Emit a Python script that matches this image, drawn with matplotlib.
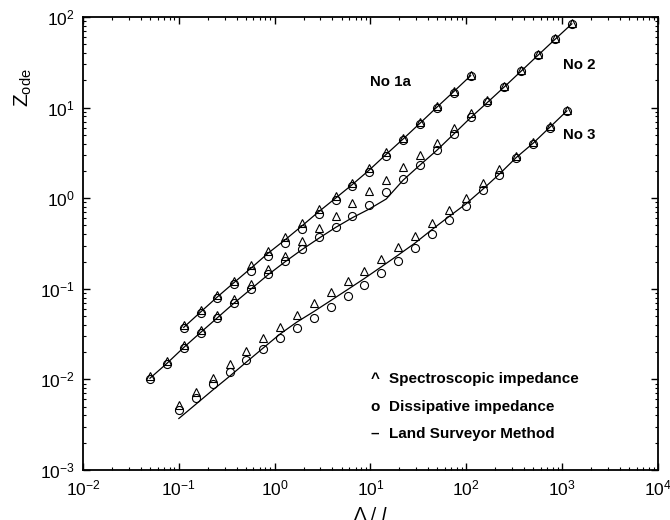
import matplotlib
matplotlib.use("Agg")
import matplotlib.pyplot as plt
from matplotlib.ticker import LogLocator, NullFormatter

plt.rcParams['font.family'] = ['Liberation Sans', 'DejaVu Sans']
plt.rcParams['mathtext.fontset'] = 'custom'
plt.rcParams['mathtext.rm'] = 'Liberation Sans'
plt.rcParams['mathtext.it'] = 'Liberation Sans:italic'

# series No 2 (x grid, ratio 1.5)
x_no2 = [0.05, 0.075, 0.1125, 0.169, 0.253, 0.380, 0.570, 0.854, 1.28, 1.92,
         2.88, 4.32, 6.49, 9.73, 14.6, 21.9, 32.8, 49.3, 73.9, 111,
         166, 249, 374, 561, 842, 1263]
tri_no2 = [0.0108, 0.0158, 0.0238, 0.0348, 0.051, 0.077, 0.112, 0.164, 0.230, 0.337,
           0.466, 0.637, 0.892, 1.20, 1.60, 2.19, 3.00, 4.10, 5.91, 8.65,
           12.0, 17.4, 26.0, 38.8, 58.0, 86.0]
circ_no2 = [0.0100, 0.0148, 0.0222, 0.0325, 0.0475, 0.070, 0.100, 0.146, 0.204, 0.273,
            0.370, 0.484, 0.641, 0.841, 1.17, 1.64, 2.34, 3.40, 5.12, 7.81,
            11.4, 16.8, 25.2, 37.8, 56.5, 84.0]
line_no2 = [0.0103, 0.0150, 0.0225, 0.033, 0.048, 0.070, 0.100, 0.143, 0.198, 0.27,
            0.36, 0.475, 0.61, 0.76, 0.98, 1.58, 2.32, 3.38, 5.1, 7.75,
            11.4, 16.9, 25.3, 37.9, 56.6, 84.0]

# series No 1a
x_no1a = [0.1125, 0.169, 0.253, 0.380, 0.570, 0.854, 1.28, 1.92, 2.88, 4.32,
          6.49, 9.73, 14.6, 21.9, 32.8, 49.3, 73.9, 111]
tri_no1a = [0.0397, 0.058, 0.085, 0.123, 0.181, 0.263, 0.369, 0.526, 0.756, 1.05,
            1.49, 2.15, 3.20, 4.61, 6.88, 10.3, 15.3, 22.9]
circ_no1a = [0.0367, 0.0537, 0.0787, 0.113, 0.159, 0.231, 0.324, 0.462, 0.664, 0.95,
             1.35, 1.95, 2.90, 4.39, 6.54, 9.85, 14.6, 22.1]
line_no1a = [0.0375, 0.0555, 0.0815, 0.118, 0.170, 0.247, 0.346, 0.493, 0.709, 1.00,
             1.42, 2.05, 3.05, 4.50, 6.71, 10.1, 15.0, 22.5]

# series No 3
x_no3 = [0.1, 0.15, 0.225, 0.338, 0.506, 0.759, 1.14, 1.71, 2.56, 3.84,
         5.77, 8.65, 13.0, 19.5, 29.2, 43.8, 65.7, 98.5, 148, 222,
         333, 499, 748, 1122]
tri_no3 = [0.0052, 0.0073, 0.0103, 0.0147, 0.0207, 0.0284, 0.0382, 0.0514, 0.0695, 0.092,
           0.122, 0.159, 0.213, 0.288, 0.386, 0.529, 0.742, 1.01, 1.46, 2.09,
           2.95, 4.2, 6.3, 9.4]
circ_no3 = [0.0046, 0.0063, 0.0088, 0.0122, 0.0164, 0.0217, 0.0289, 0.0366, 0.0478, 0.0625,
            0.0826, 0.110, 0.148, 0.204, 0.283, 0.401, 0.574, 0.83, 1.22, 1.80,
            2.80, 4.0, 6.0, 9.1]
line_no3 = [0.0037, 0.0053, 0.0076, 0.0108, 0.0155, 0.0222, 0.0317, 0.043, 0.056, 0.074,
            0.098, 0.13, 0.175, 0.236, 0.32, 0.45, 0.625, 0.86, 1.25, 1.85,
            2.82, 4.05, 6.1, 9.2]

series = [
    (x_no1a, tri_no1a, circ_no1a, line_no1a),
    (x_no2, tri_no2, circ_no2, line_no2),
    (x_no3, tri_no3, circ_no3, line_no3),
]

fig = plt.figure(figsize=(6.7, 5.2), dpi=100)
ax = fig.add_axes([0.1239, 0.0962, 0.8581, 0.8711])

for x, tri, circ, line in series:
    ax.plot(x, line, color='black', lw=0.9)
    ax.plot(x, tri, linestyle='none', marker='^', ms=6.4, mfc='none', mec='black', mew=0.8)
    ax.plot(x, circ, linestyle='none', marker='o', ms=5.8, mfc='none', mec='black', mew=0.8)

ax.set_xscale('log')
ax.set_yscale('log')
ax.set_xlim(1e-2, 1e4)
ax.set_ylim(1e-3, 1e2)

ax.xaxis.set_major_locator(LogLocator(base=10, numticks=10))
ax.yaxis.set_major_locator(LogLocator(base=10, numticks=10))
ax.xaxis.set_minor_locator(LogLocator(base=10, subs=range(2, 10), numticks=100))
ax.yaxis.set_minor_locator(LogLocator(base=10, subs=range(2, 10), numticks=100))
ax.xaxis.set_minor_formatter(NullFormatter())
ax.yaxis.set_minor_formatter(NullFormatter())

ax.tick_params(which='both', direction='in', top=True, right=True, labelsize=12.5)
ax.tick_params(which='major', length=5, width=1.0, pad=6)
ax.tick_params(which='minor', length=2.5, width=0.8)
for sp in ax.spines.values():
    sp.set_linewidth(1.3)

ax.set_xlabel(r'$\Lambda$ / $l$', fontsize=13.5, labelpad=6)
ax.set_ylabel(r'Z$_{\mathrm{ode}}$', fontsize=15)
ax.yaxis.set_label_coords(-0.085, 0.845)

ax.text(10.0, 19.2, 'No 1a', fontsize=10.8, fontweight='bold', ha='left', va='center')
ax.text(1010, 29.5, 'No 2', fontsize=10.8, fontweight='bold', ha='left', va='center')
ax.text(1010, 5.0, 'No 3', fontsize=10.8, fontweight='bold', ha='left', va='center')

legend_rows = [('^', 'Spectroscopic impedance', 0.201),
               ('o', 'Dissipative impedance', 0.140),
               ('\u2013', 'Land Surveyor Method', 0.079)]
for sym, label, yy in legend_rows:
    ax.text(0.508, yy, sym, transform=ax.transAxes, fontsize=11, fontweight='bold',
            ha='center', va='center')
    ax.text(0.532, yy, label, transform=ax.transAxes, fontsize=11, fontweight='bold',
            ha='left', va='center')

fig.savefig('out.png', dpi=100)
